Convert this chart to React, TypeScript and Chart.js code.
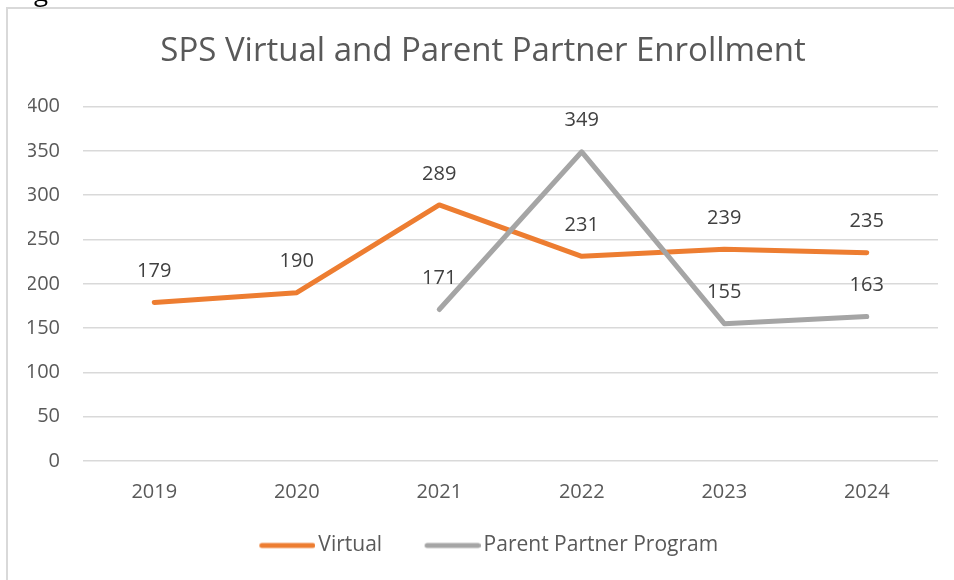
import React, { useEffect, useRef } from "react";
import { Chart, registerables } from "chart.js";

Chart.register(...registerables);

const years = ["2019", "2020", "2021", "2022", "2023", "2024"];
const virtualValues = [179, 190, 289, 231, 239, 235];
const parentPartnerValues = [null, null, 171, 349, 155, 163];
const yMin = 0;
const yMax = 400;
const yStep = 50;

const FONT = "'Open Sans', sans-serif";
const ORANGE = "#ED7D31";
const GRAY = "#A5A5A5";
const TEXT = "#595959";

const valueLabels = {
  id: "valueLabels",
  afterDatasetsDraw(chart: any) {
    const ctx = chart.ctx;
    ctx.save();
    ctx.font = `20px ${FONT}`;
    ctx.fillStyle = "#404040";
    ctx.textAlign = "center";
    ctx.textBaseline = "middle";
    chart.data.datasets.forEach((ds: any, i: number) => {
      const meta = chart.getDatasetMeta(i);
      meta.data.forEach((pt: any, j: number) => {
        const v = ds.data[j];
        if (v == null) return;
        ctx.fillText(String(v), pt.x, pt.y - 31);
      });
    });
    ctx.restore();
  },
};

// let the x tick labels extend below the (deliberately short) x-axis box
const xLabelRoom = {
  id: "xLabelRoom",
  afterLayout(chart: any) {
    const s = chart.scales.x;
    s.bottom = s.top + 50;
    s.height = 50;
  },
};

// legend swatch: a short thick line placed close to its text
function legendLine(color: string): HTMLCanvasElement {
  const c = document.createElement("canvas");
  c.width = 75;
  c.height = 8;
  const g = c.getContext("2d")!;
  g.strokeStyle = color;
  g.lineWidth = 5;
  g.lineCap = "round";
  g.beginPath();
  g.moveTo(21.5, 4);
  g.lineTo(72.5, 4);
  g.stroke();
  return c;
}

export default function App() {
  const ref = useRef<HTMLCanvasElement>(null);
  useEffect(() => {
    if (!ref.current) return;
    const chart = new Chart(ref.current, {
      type: "line",
      data: {
        labels: years,
        datasets: [
          {
            label: "Virtual",
            data: virtualValues,
            borderColor: ORANGE,
            backgroundColor: ORANGE,
            borderWidth: 5,
            borderCapStyle: "round",
            borderJoinStyle: "round",
            pointRadius: 0,
            pointStyle: legendLine(ORANGE),
            tension: 0,
            order: 1,
          },
          {
            label: "Parent Partner Program",
            data: parentPartnerValues,
            borderColor: GRAY,
            backgroundColor: GRAY,
            borderWidth: 5,
            borderCapStyle: "round",
            borderJoinStyle: "round",
            pointRadius: 0,
            pointStyle: legendLine(GRAY),
            tension: 0,
            order: 0,
          },
        ],
      },
      options: {
        responsive: false,
        animation: false,
        layout: { padding: { left: 28, right: 16, top: 0, bottom: 14 } },
        plugins: {
          title: {
            display: true,
            text: "SPS Virtual and Parent Partner Enrollment",
            color: TEXT,
            font: { family: FONT, size: 33, weight: "normal" },
            padding: { top: 32, bottom: 35 },
          },
          legend: {
            display: true,
            position: "bottom",
            labels: {
              usePointStyle: true,
              pointStyleWidth: 60,
              color: TEXT,
              font: { family: FONT, size: 21 },
              padding: 31,
              sort: (a: any, b: any) => a.datasetIndex - b.datasetIndex,
            },
          },
          tooltip: { enabled: false },
        },
        scales: {
          x: {
            offset: true,
            grid: { display: false, drawTicks: false },
            border: { display: false },
            ticks: { color: TEXT, font: { family: FONT, size: 20 }, padding: 19 },
            afterFit: (s: any) => {
              s.height = 43;
            },
          },
          y: {
            min: yMin,
            max: yMax,
            border: { display: false },
            grid: { color: "#d9d9d9", lineWidth: 1.5, drawTicks: false },
            ticks: {
              stepSize: yStep,
              color: TEXT,
              font: { family: FONT, size: 20 },
              padding: 23,
            },
            afterFit: (s: any) => {
              s.width = 55;
            },
          },
        },
      },
      plugins: [valueLabels, xLabelRoom],
    });
    return () => chart.destroy();
  }, []);

  return (
    <div>
      <div
        style={{
          position: "fixed",
          left: 34,
          top: -24,
          fontFamily: FONT,
          fontSize: 26,
          color: "#000",
          lineHeight: "30px",
        }}
      >
        g
      </div>
      <div
        style={{
          position: "fixed",
          left: 6,
          top: 7,
          width: 2000,
          height: 2000,
          border: "2px solid #d9d9d9",
          background: "#fff",
        }}
      />
      <canvas
        ref={ref}
        width={954}
        height={580}
        style={{ position: "fixed", left: 0, top: 0, display: "block" }}
      />
    </div>
  );
}
